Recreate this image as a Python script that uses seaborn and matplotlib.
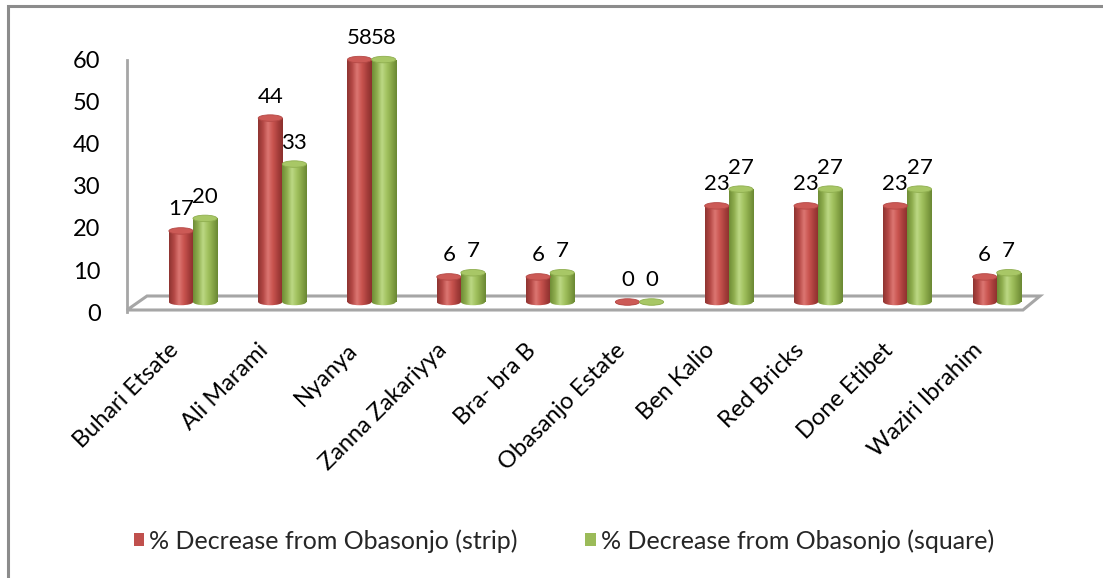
import numpy as np
import pandas as pd
import matplotlib
matplotlib.use("Agg")
import matplotlib.pyplot as plt
import seaborn as sns
from matplotlib.patches import Ellipse, Rectangle, Polygon, Patch
from matplotlib.colors import LinearSegmentedColormap
from matplotlib.transforms import ScaledTranslation

# ---- data ----
sites = ["Buhari Etsate", "Ali Marami", "Nyanya", "Zanna Zakariyya", "Bra- bra B",
         "Obasanjo Estate", "Ben Kalio", "Red Bricks", "Done Etibet", "Waziri Ibrahim"]
strip = [17, 44, 58, 6, 6, 0, 23, 23, 23, 6]
square = [20, 33, 58, 7, 7, 0, 27, 27, 27, 7]
series = ["% Decrease from Obasonjo (strip)", "% Decrease from Obasonjo (square)"]
y_ticks = [0, 10, 20, 30, 40, 50, 60]

df = pd.DataFrame({
    "site": sites * 2,
    "value": strip + square,
    "series": [series[0]] * len(sites) + [series[1]] * len(sites),
})

sns.set_theme(style="white")
plt.rcParams["font.family"] = ["Lato", "DejaVu Sans"]
FS = 17
FS_VAL = 16
FS_LEG = 18

W, H = 1103, 578
fig = plt.figure(figsize=(W / 100, H / 100), dpi=100)


def rect(left, top, right, bottom):
    return [left / W, 1 - bottom / H, (right - left) / W, (bottom - top) / H]


base_colors = ["#C0504D", "#9BBB59"]
shades = [
    ["#8f3431", "#b44845", "#dc7672", "#c9544f", "#a83f3c", "#8a302d"],
    ["#6f8d36", "#8fae4f", "#bcd884", "#a2c25f", "#87a647", "#6a8833"],
]
cap_colors = ["#cc5a56", "#a8c766"]

# outer frame
fig.patches.append(Rectangle((8 / W, -0.05), 1.2, 1 - 6 / H + 0.05, transform=fig.transFigure,
                             fill=False, edgecolor="#8c8c8c", linewidth=2.2, zorder=-2))

# floor of the plot area (drawn beneath the axes)
floor = Polygon([(127 / W, 1 - 310 / H), (1023 / W, 1 - 310 / H),
                 (1040 / W, 1 - 296 / H), (147 / W, 1 - 296 / H)],
                closed=True, transform=fig.transFigure, facecolor="white",
                edgecolor="#a6a6a6", linewidth=2.2, zorder=-1)
fig.patches.append(floor)

# value axis
ax_axis = fig.add_axes(rect(127, 60, 1040, 312))
ax_axis.set_ylim(0, 60)
ax_axis.set_xlim(0, 1)
ax_axis.set_yticks(y_ticks)
ax_axis.set_yticklabels([str(t) for t in y_ticks], fontsize=FS, color="#000000")
ax_axis.tick_params(axis="y", length=0, pad=19)
ax_axis.set_xticks([])
for s in ["top", "right", "bottom"]:
    ax_axis.spines[s].set_visible(False)
ax_axis.spines["left"].set_color("#a6a6a6")
ax_axis.spines["left"].set_linewidth(2.0)
ax_axis.patch.set_alpha(0)

# bars: the axes reaches a little below zero so the bottom ellipses stay visible
px_per_unit = 4.18
y_lo = -3
base_px = 302
ax = fig.add_axes(rect(127, base_px - 60 * px_per_unit, 1040, base_px - y_lo * px_per_unit))
ax.patch.set_alpha(0)
sns.barplot(data=df, x="site", y="value", hue="series", hue_order=series,
            palette=base_colors, width=0.54, saturation=1, legend=False, ax=ax)
for s in ax.spines.values():
    s.set_visible(False)
ax.set_yticks([])
ax.set_xlabel("")
ax.set_ylabel("")

ell_h = 6.5 / px_per_unit

n = len(sites)
for i, bar in enumerate(ax.patches[: 2 * n]):
    k = i // n
    x0 = bar.get_x()
    w = bar.get_width()
    v = bar.get_height()
    bar.set_facecolor("none")
    bar.set_edgecolor("none")
    cmap = LinearSegmentedColormap.from_list("cyl%d" % k, shades[k])
    grad = np.linspace(0, 1, 64).reshape(1, -1)
    # body of the cylinder
    body = Rectangle((x0, 0), w, v, transform=ax.transData, facecolor="none", edgecolor="none")
    ax.add_patch(body)
    im = ax.imshow(grad, cmap=cmap, extent=(x0, x0 + w, -ell_h, max(v, 0.01)), aspect="auto",
                   origin="lower", zorder=2, interpolation="bilinear")
    im.set_clip_path(body)
    bottom = Ellipse((x0 + w / 2, 0), w, ell_h, transform=ax.transData,
                     facecolor="none", edgecolor="none")
    ax.add_patch(bottom)
    im2 = ax.imshow(grad, cmap=cmap, extent=(x0, x0 + w, -ell_h, max(v, 0.01)), aspect="auto",
                    origin="lower", zorder=2, interpolation="bilinear")
    im2.set_clip_path(bottom)
    # top cap
    ax.add_patch(Ellipse((x0 + w / 2, v), w, ell_h, facecolor=cap_colors[k],
                         edgecolor=shades[k][1], linewidth=0.6, zorder=3))
    # value label
    ax.annotate(f"{v:g}", (x0 + w / 2, v), xytext=(0, 15.5), textcoords="offset points",
                ha="center", va="center", fontsize=FS_VAL, color="#000000",
                annotation_clip=False)

ax.set_ylim(y_lo, 60)
ax.set_xlim(-0.739, 9.485)

# category labels
ax.set_xticks(range(n))
ax.set_xticklabels(sites, rotation=45, ha="right", va="top", rotation_mode="anchor",
                   fontsize=FS, color="#000000")
ax.tick_params(axis="x", length=0, pad=18)
off = ScaledTranslation(-25 / 100, 0, fig.dpi_scale_trans)
for lab in ax.get_xticklabels():
    lab.set_transform(lab.get_transform() + off)

# legend
handles = [Patch(facecolor=c, edgecolor="none") for c in base_colors]
fig.legend(handles, series, loc="center", bbox_to_anchor=(564 / W, 1 - 541 / H),
           ncol=2, frameon=False, fontsize=FS_LEG, handlelength=0.42, handleheight=0.42,
           handletextpad=0.2, columnspacing=2.7)

fig.savefig("out.png", dpi=100)
